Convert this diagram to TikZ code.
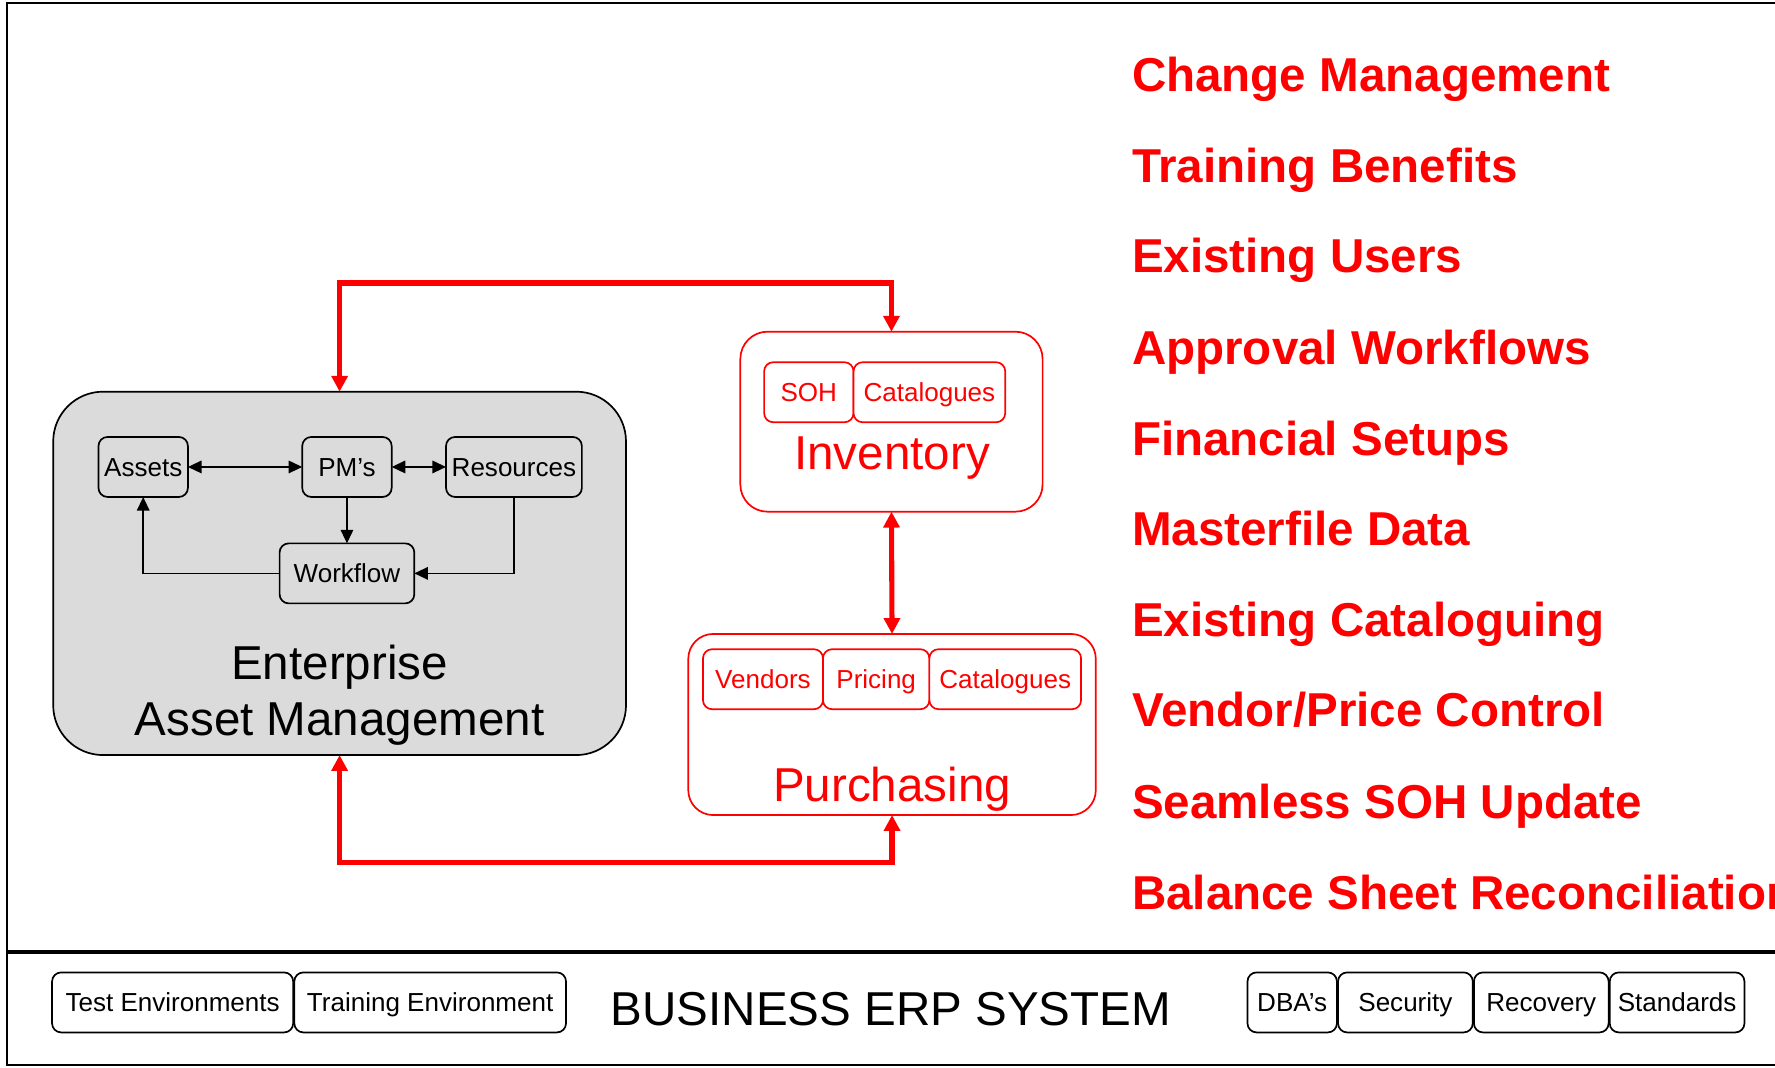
\documentclass[tikz,border=0pt]{standalone}
\usepackage{fontspec}
\setmainfont{Liberation Sans}
\usetikzlibrary{arrows.meta}

\begin{document}
\begin{tikzpicture}[x=0.5pt, y=-0.5pt,
    every node/.style={
        inner sep=0pt,
        outer sep=0pt,
        font=\fontsize{11.5}{14}\selectfont
    },
    grey_box/.style={rectangle, rounded corners=4pt, draw, line width=0.75pt, fill=black!14,
        minimum height=26.5pt, text height=9.4pt, text depth=1.3pt},
    white_box/.style={grey_box, fill=white},
    red_box/.style={grey_box, draw=red, fill=white, text=red},
    big_text/.style={font=\fontsize{21}{25}\selectfont},
    list_text/.style={font=\fontsize{21}{25}\selectfont\bfseries, text=red, anchor=base west},
    black_link/.style={-{Triangle[length=6pt,width=5.5pt]}, line width=0.75pt},
    black_both/.style={{Triangle[length=6pt,width=5.5pt]}-{Triangle[length=6pt,width=5.5pt]}, line width=0.75pt},
    red_link/.style={{Triangle[length=7pt,width=7pt]}-{Triangle[length=7pt,width=7pt]}, red, line width=2.25pt}
]

    \useasboundingbox (0,0) rectangle (1568,943);

    % frame and ERP band
    \draw[line width=0.9pt] (6,3) rectangle (1640,941);
    \draw[line width=1.5pt] (6,841) -- (1640,841);



    \node (eam) [rectangle, rounded corners=22pt, draw, line width=0.75pt, fill=black!14,
        minimum width=253pt, minimum height=160.5pt, shift={(300, 506.5)}]
    {};

    \node (assets) [grey_box, minimum width=39.5pt, shift={(126.5, 412.5)}]
    {
        Assets
    };

    \node (pms) [grey_box, minimum width=39.5pt, shift={(306.5, 412.5)}]
    {
        PM’s
    };

    \node (resources) [grey_box, minimum width=60pt, shift={(454, 412.5)}]
    {
        Resources
    };

    \node (workflow) [grey_box, minimum width=59.5pt, shift={(306.5, 506.5)}]
    {
        Workflow
    };

    \node (eam_label) [big_text, align=center, anchor=base, shift={(300, 650)}]
    {
        Enterprise\\Asset Management
    };


    \draw[black_both] (assets) to (pms);
    \draw[black_both] (pms) to (resources);
    \draw[black_link] (pms) to (workflow);
    \draw[black_link] (workflow.west) -| (assets.south);
    \draw[black_link] (resources.south) |- (workflow.east);





    \node (inventory) [rectangle, rounded corners=12pt, draw=red, line width=0.75pt, fill=white,
        minimum width=133.5pt, minimum height=79.5pt, shift={(787.5, 372.5)}]
    {};

    \node (inv_soh) [red_box, minimum width=39.5pt, shift={(714.5, 346.5)}]
    {
        SOH
    };

    \node (inv_catalogues) [red_box, minimum width=67pt, shift={(821, 346.5)}]
    {
        Catalogues
    };

    \node (inventory_label) [big_text, text=red, anchor=base, shift={(788, 415)}]
    {
        Inventory
    };



    \node (purchasing) [rectangle, rounded corners=11pt, draw=red, line width=0.75pt, fill=white,
        minimum width=180pt, minimum height=80pt, shift={(788, 640)}]
    {};

    \node (pur_vendors) [red_box, minimum width=53pt, shift={(674, 600)}]
    {
        Vendors
    };

    \node (pur_pricing) [red_box, minimum width=47pt, shift={(774, 600)}]
    {
        Pricing
    };

    \node (pur_catalogues) [red_box, minimum width=67pt, shift={(888, 600)}]
    {
        Catalogues
    };

    \node (purchasing_label) [big_text, text=red, anchor=base, shift={(788, 708)}]
    {
        Purchasing
    };


    \coordinate (top_route) at (544, 250);
    \coordinate (bottom_route) at (544, 762);

    \draw[red_link] (eam.north) |- (top_route) -| (inventory.north);
    \draw[red_link] (inventory.south) to (purchasing.north);
    \draw[red_link] (eam.south) |- (bottom_route) -| (purchasing.south);





    \node (change_management) [list_text, shift={(1000, 81)}] {Change Management};
    \node (training_benefits) [list_text, shift={(1000, 161)}] {Training Benefits};
    \node (existing_users) [list_text, shift={(1000, 241)}] {Existing Users};
    \node (approval_workflows) [list_text, shift={(1000, 322)}] {Approval Workflows};
    \node (financial_setups) [list_text, shift={(1000, 402)}] {Financial Setups};
    \node (masterfile_data) [list_text, shift={(1000, 482)}] {Masterfile Data};
    \node (existing_cataloguing) [list_text, shift={(1000, 562)}] {Existing Cataloguing};
    \node (vendor_price_control) [list_text, shift={(1000, 642)}] {Vendor/Price Control};
    \node (seamless_soh_update) [list_text, shift={(1000, 723)}] {Seamless SOH Update};
    \node (balance_sheet) [list_text, shift={(1000, 803)}] {Balance Sheet Reconciliation};





    \node (test_environments) [white_box, minimum width=106.5pt, shift={(152.5, 885.5)}]
    {
        Test Environments
    };

    \node (training_environment) [white_box, minimum width=120pt, shift={(380, 885.5)}]
    {
        Training Environment
    };

    \node (erp_system) [big_text, anchor=base, shift={(787, 906)}]
    {
        BUSINESS ERP SYSTEM
    };

    \node (dbas) [white_box, minimum width=39.5pt, shift={(1141.5, 885.5)}]
    {
        DBA’s
    };

    \node (security) [white_box, minimum width=59.5pt, shift={(1241.5, 885.5)}]
    {
        Security
    };

    \node (recovery) [white_box, minimum width=59.5pt, shift={(1361.5, 885.5)}]
    {
        Recovery
    };

    \node (standards) [white_box, minimum width=59.5pt, shift={(1481.5, 885.5)}]
    {
        Standards
    };


\end{tikzpicture}
\end{document}
